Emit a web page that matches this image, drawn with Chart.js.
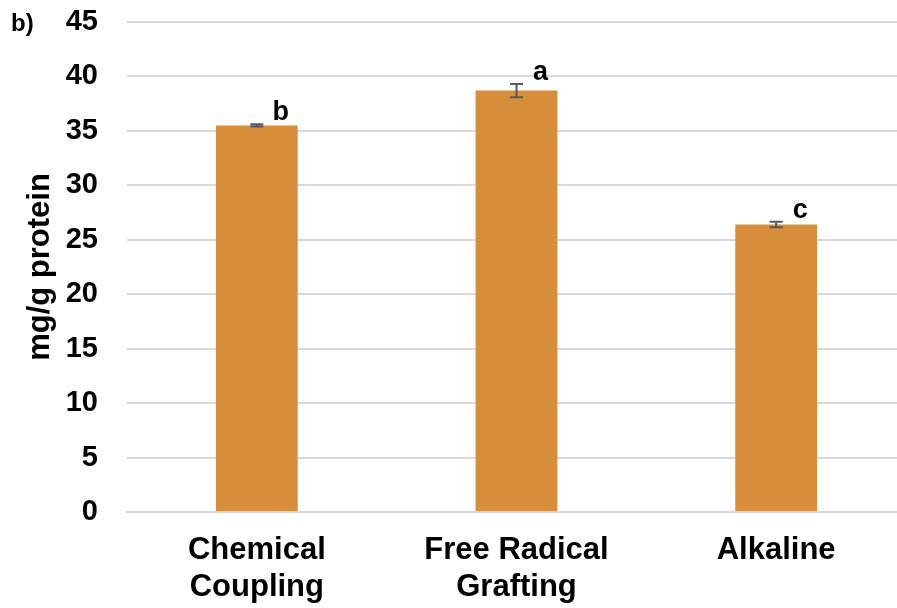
<!DOCTYPE html>
<html>
<head>
<meta charset="utf-8">
<script src="https://cdn.jsdelivr.net/npm/chart.js@4/dist/chart.umd.min.js"></script>
<style>
  html, body { margin: 0; padding: 0; background: #fff; overflow: hidden; }
  #wrap { position: relative; width: 910px; height: 608px; }
</style>
</head>
<body>
<div id="wrap"><canvas id="c" width="910" height="608"></canvas></div>
<script>
// Protein-bound content by method (mg/g protein), mean ± SD with significance groups
const categories = [["Chemical", "Coupling"], ["Free Radical", "Grafting"], ["Alkaline"]];
const means = [35.5, 38.7, 26.4];
const errors = [0.1, 0.6, 0.25];
const groups = ["b", "a", "c"];
const yTicks = [0, 5, 10, 15, 20, 25, 30, 35, 40, 45];
const panelLabel = "b)";
const yTitle = "mg/g protein";

const FONT = "'Liberation Sans', Arial, sans-serif";

const errorBarPlugin = {
  id: 'errorBars',
  afterDatasetsDraw(chart) {
    const ctx = chart.ctx;
    const meta = chart.getDatasetMeta(0);
    const y = chart.scales.y;
    ctx.save();
    meta.data.forEach((bar, i) => {
      const x = bar.x;
      const yTop = y.getPixelForValue(means[i] + errors[i]);
      const yBot = y.getPixelForValue(means[i] - errors[i]);
      ctx.strokeStyle = '#595959';
      ctx.lineWidth = 2;
      ctx.beginPath();
      ctx.moveTo(x, yTop); ctx.lineTo(x, yBot);
      ctx.moveTo(x - 6.5, yTop); ctx.lineTo(x + 6.5, yTop);
      ctx.moveTo(x - 6.5, yBot); ctx.lineTo(x + 6.5, yBot);
      ctx.stroke();
      // significance letter
      ctx.fillStyle = '#000';
      ctx.font = "bold 27px " + FONT;
      ctx.textAlign = 'center';
      ctx.textBaseline = 'alphabetic';
      ctx.fillText(groups[i], x + 24, yTop - 4);
    });
    // panel label
    ctx.font = "bold 24px " + FONT;
    ctx.textAlign = 'left';
    ctx.textBaseline = 'middle';
    ctx.fillText(panelLabel, 11, 24);
    ctx.restore();
  }
};

new Chart(document.getElementById('c'), {
  type: 'bar',
  data: {
    labels: categories,
    datasets: [{
      data: means,
      backgroundColor: '#D68E3A',
      borderWidth: 0,
      barPercentage: 0.63,
      categoryPercentage: 0.5
    }]
  },
  options: {
    responsive: false,
    animation: false,
    layout: { padding: { top: 22, left: 0, right: 4, bottom: 0 } },
    plugins: { legend: { display: false }, tooltip: { enabled: false } },
    scales: {
      x: {
        grid: { display: false, drawTicks: false },
        border: { display: true, color: '#d9d9d9', width: 2 },
        ticks: {
          color: '#000',
          font: { family: FONT, size: 31, weight: 'bold', lineHeight: 1.2 },
          padding: 20,
          maxRotation: 0
        },
        afterFit(scale) { scale.height = 96; }
      },
      y: {
        min: 0, max: 45,
        afterBuildTicks(scale) { scale.ticks = yTicks.map(v => ({ value: v })); },
        grid: { color: '#d9d9d9', lineWidth: 2, drawTicks: false },
        border: { display: false },
        ticks: {
          color: '#000',
          font: { family: FONT, size: 29, weight: 'bold' },
          padding: 29
        },
        title: {
          display: true,
          text: yTitle,
          color: '#000',
          font: { family: FONT, size: 31, weight: 'bold' },
          padding: { top: 22, bottom: 0 }
        },
        afterFit(scale) {
          scale.width = 127;
          scale.paddingTop = 0;
          scale.paddingBottom = 0;
        }
      }
    }
  },
  plugins: [errorBarPlugin]
});
</script>
</body>
</html>
